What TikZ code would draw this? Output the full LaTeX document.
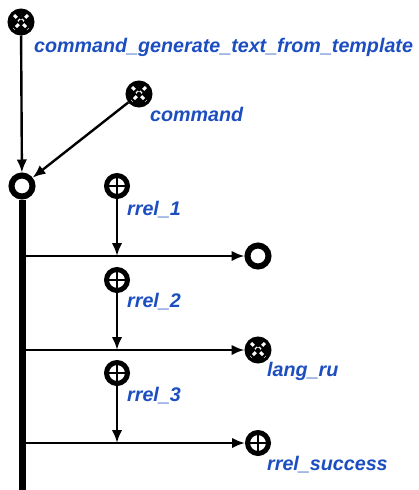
\documentclass[tikz,border=0pt]{standalone}
\usepackage{fontspec}
\setmainfont{Liberation Sans}
\usetikzlibrary{arrows.meta}
\definecolor{lblblue}{RGB}{28,78,192}
\tikzset{
  conn/.style={line width=2.4pt,-{Latex[length=13pt,width=10.5pt]}},
  bus/.style={line width=7pt},
  lbl/.style={anchor=base west,inner sep=0pt,text=lblblue,font=\fontsize{19.7}{20}\selectfont\bfseries\itshape},
  tuple/.style={circle,draw=black,line width=6pt,fill=white,minimum size=21pt,inner sep=0pt},
  varnode/.style={circle,draw=black,line width=5pt,fill=white,minimum size=21pt,inner sep=0pt,
    path picture={\draw[line width=1.6pt] (path picture bounding box.north) -- (path picture bounding box.south)
      (path picture bounding box.west) -- (path picture bounding box.east);}},
  constnode/.style={circle,draw=black,line width=2pt,fill=black,minimum size=25pt,inner sep=0pt,
    path picture={\draw[white,line width=3pt,dash pattern=on 4pt off 2.5pt]
      ([shift={(-7pt,7pt)}]path picture bounding box.center) -- ([shift={(7pt,-7pt)}]path picture bounding box.center)
      ([shift={(7pt,7pt)}]path picture bounding box.center) -- ([shift={(-7pt,-7pt)}]path picture bounding box.center);
      \fill[black] (path picture bounding box.center) circle (2.2pt);}},
}
\begin{document}
\begin{tikzpicture}[x=1pt,y=-1pt]
\useasboundingbox (0,0) rectangle (419,490);
% nodes
\node[constnode] (A) at (21,22) {};
\node[constnode] (B) at (139,94) {};
\node[tuple] (C) at (22,186) {};
\node[varnode] (r1) at (117,186) {};
\node[tuple] (t1) at (258,256) {};
\node[varnode] (r2) at (117,280) {};
\node[constnode] (t2) at (258,350) {};
\node[varnode] (r3) at (117,373) {};
\node[varnode] (t3) at (258,443) {};
% bus
\coordinate (busend) at (22,490);
\coordinate (b1) at (22,256);
\coordinate (b2) at (22,350);
\coordinate (b3) at (22,443);
\coordinate (m1) at (117,256);
\coordinate (m2) at (117,350);
\coordinate (m3) at (117,443);
\draw[bus] (C.south) -- (busend);
% connectors
\draw[conn] (A) -- (C);
\draw[conn] (B) -- (C);
\draw[conn] (b1) -- (t1);
\draw[conn] (b2) -- (t2);
\draw[conn] (b3) -- (t3);
\draw[conn] (r1) -- (m1);
\draw[conn] (r2) -- (m2);
\draw[conn] (r3) -- (m3);
% labels
\node[lbl] (lA) at (34,52) {command\_generate\_text\_from\_template};
\node[lbl] (lB) at (150,121) {command};
\node[lbl] (l1) at (127,215) {rrel\_1};
\node[lbl] (l2) at (127,307) {rrel\_2};
\node[lbl] (l3) at (127,401) {rrel\_3};
\node[lbl] (lt2) at (267,376) {lang\_ru};
\node[lbl] (lt3) at (267,470) {rrel\_success};
\end{tikzpicture}
\end{document}
